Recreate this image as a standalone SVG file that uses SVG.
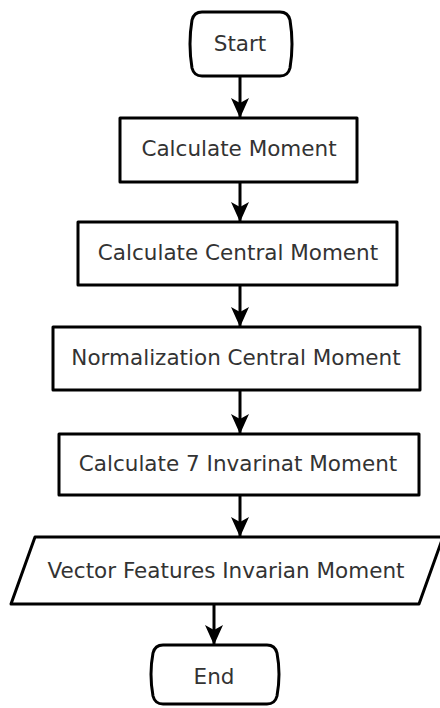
<svg xmlns="http://www.w3.org/2000/svg" width="440" height="708" viewBox="0 0 440 708">
<defs>
<style>
.shape{fill:#ffffff;stroke:#000000;stroke-width:3;stroke-linejoin:round}
.lbl{font-family:"DejaVu Sans","Liberation Sans",sans-serif;font-size:21.5px;fill:#333333;text-anchor:middle}
.conn{stroke:#000000;stroke-width:3;fill:none}
</style>
<marker id="ah" viewBox="0 0 20 20" refX="19" refY="10" markerWidth="21" markerHeight="20" orient="auto" markerUnits="userSpaceOnUse">
<path d="M0,1 L20,10 L0,19 L5,10 z" fill="#000000"/>
</marker>
</defs>
<rect width="440" height="708" fill="#ffffff"/>
<g id="connectors">
<line class="conn" x1="240" y1="76" x2="240" y2="117" marker-end="url(#ah)"/>
<line class="conn" x1="240" y1="182" x2="240" y2="221" marker-end="url(#ah)"/>
<line class="conn" x1="240" y1="285" x2="240" y2="326" marker-end="url(#ah)"/>
<line class="conn" x1="240" y1="390" x2="240" y2="433" marker-end="url(#ah)"/>
<line class="conn" x1="240" y1="495" x2="240" y2="536" marker-end="url(#ah)"/>
<line class="conn" x1="214" y1="604" x2="214" y2="644" marker-end="url(#ah)"/>
</g>
<g id="start">
<path class="shape" d="M202,12 H280 Q288,12 290,20 Q294,44 290,68 Q288,76 280,76 H202 Q194,76 192,68 Q188,44 192,20 Q194,12 202,12 Z"/>
<text class="lbl" x="240" y="51">Start</text>
</g>
<g id="calc-moment">
<rect class="shape" x="120" y="118" width="237" height="64"/>
<text class="lbl" x="239" y="156">Calculate Moment</text>
</g>
<g id="calc-central">
<rect class="shape" x="78" y="222" width="319" height="63"/>
<text class="lbl" x="238" y="260">Calculate Central Moment</text>
</g>
<g id="normalization">
<rect class="shape" x="53" y="327" width="367" height="63"/>
<text class="lbl" x="236" y="365">Normalization Central Moment</text>
</g>
<g id="calc-7">
<rect class="shape" x="59" y="434" width="360" height="61"/>
<text class="lbl" x="238" y="471">Calculate 7 Invarinat Moment</text>
</g>
<g id="vector">
<path class="shape" d="M35,537 H443 L419,604 H11 Z"/>
<text class="lbl" x="226" y="578">Vector Features Invarian Moment</text>
</g>
<g id="end">
<path class="shape" d="M163,645 H267 Q275,645 277,653 Q281,674 277,696 Q275,704 267,704 H163 Q155,704 153,696 Q149,674 153,653 Q155,645 163,645 Z"/>
<text class="lbl" x="214" y="684">End</text>
</g>
</svg>
